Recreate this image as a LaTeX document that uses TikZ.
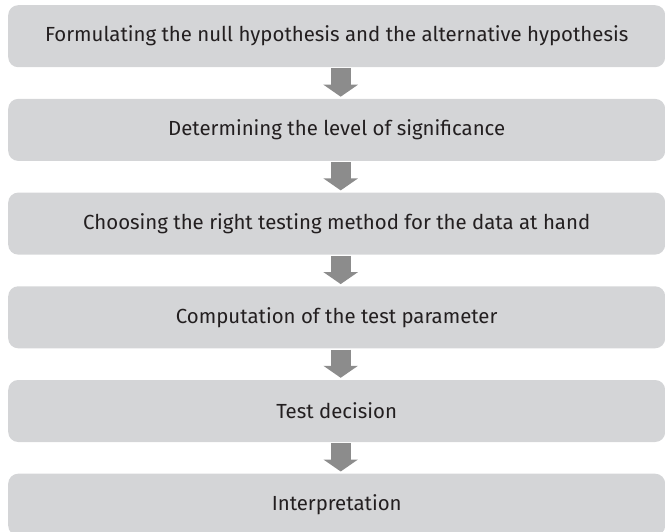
\documentclass[tikz,border=0pt]{standalone}
\usepackage{fontspec}
\setmainfont{Fira Sans}
\usepackage{tikz}
\usetikzlibrary{arrows.meta,positioning}
\definecolor{boxgray}{HTML}{D4D5D7}
\definecolor{arrowgray}{HTML}{8C8C8C}
\definecolor{textdark}{HTML}{231F20}

\begin{document}
\begin{tikzpicture}[
node distance=31.3pt,
stage/.style={rounded corners=10pt,align=center,fill=boxgray,
text=textdark,font=\fontsize{20.4}{24}\selectfont,
minimum height=62pt,minimum width=657pt,inner sep=0pt},
flow/.style={draw=arrowgray,line width=20pt,
-{Triangle[width=34pt,length=12pt]},shorten <=1pt,shorten >=2pt}
]
\useasboundingbox (0,0) rectangle (665pt,-532pt);
\node[stage,anchor=north west] (s1) at (8pt,-5pt)
{Formulating the null hypothesis and the alternative hypothesis};
\node[stage,below=of s1] (s2) {Determining the level of significance};
\node[stage,below=of s2] (s3) {Choosing the right testing method for the data at hand};
\node[stage,below=of s3] (s4) {Computation of the test parameter};
\node[stage,below=of s4] (s5) {Test decision};
\node[stage,below=of s5] (s6) {Interpretation};

\foreach \a/\b in {s1/s2,s2/s3,s3/s4,s4/s5,s5/s6}
\draw[flow] ([xshift=4pt]\a.south) -- ([xshift=4pt]\b.north);
\end{tikzpicture}
\end{document}
